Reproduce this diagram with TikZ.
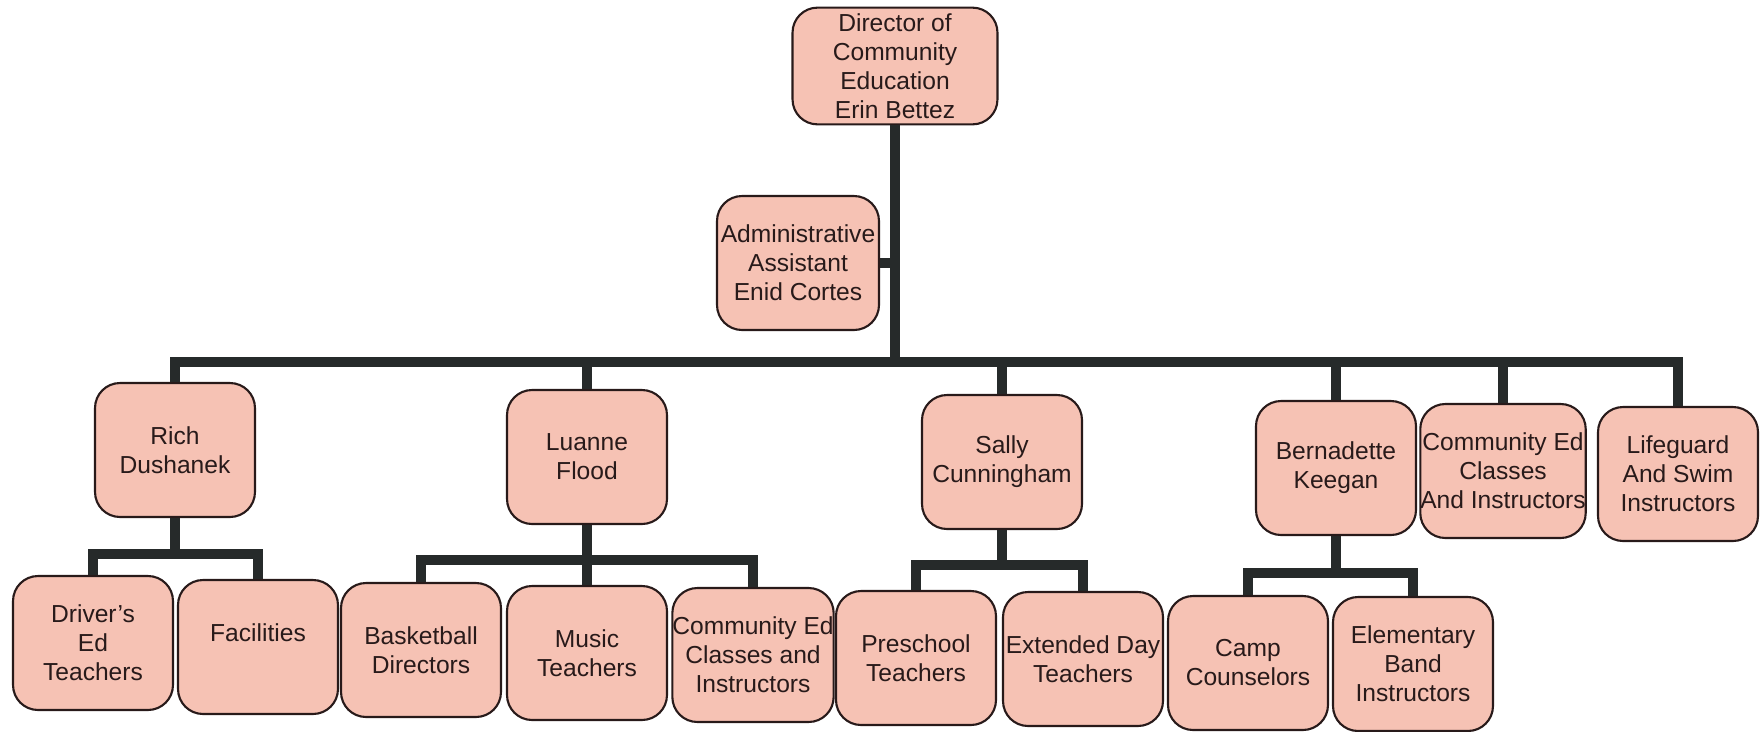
\documentclass[tikz,border=0pt]{standalone}
\usepackage{fontspec}
\setmainfont{Liberation Sans}
\definecolor{boxfill}{RGB}{246,194,180}
\definecolor{boxline}{RGB}{40,26,26}
\definecolor{barline}{RGB}{38,42,42}
\tikzset{
  unit/.style={draw=boxline,fill=boxfill,line width=1.2pt,rounded corners=0.5cm,
    align=center,text=boxline,minimum width=3.2cm,minimum height=2.68cm,
    inner xsep=0pt,font=\fontsize{14}{16.5}\selectfont},
  bar/.style={draw=barline,line width=5.5pt}
}
\begin{document}
\begin{tikzpicture}[x=0.02cm,y=-0.02cm]
  \useasboundingbox (0,0) rectangle (1762,731);
  % top
  \node[unit,minimum width=4.1cm,minimum height=2.3cm] (dir) at (895,66)
    {Director of\\Community\\Education\\Erin Bettez};
  \node[unit,minimum width=3.24cm] (admin) at (798,263)
    {Administrative\\Assistant\\Enid Cortes};
  % second row
  \node[unit] (rich) at (175,450) {Rich\\Dushanek};
  \node[unit] (luanne) at (587,457) {Luanne\\Flood};
  \node[unit] (sally) at (1002,462) {Sally\\Cunningham};
  \node[unit] (bern) at (1336,468) {Bernadette\\Keegan};
  \node[unit] (comm) at (1503,471) {Community Ed\\Classes\\And Instructors};
  \node[unit] (life) at (1678,474) {Lifeguard\\And Swim\\Instructors};
  % third row
  \node[unit] (drv) at (93,643) {Driver's\\Ed\\Teachers};
  \node[unit] (fac) at (258,647) {Facilities\\~};
  \node[unit] (bask) at (421,650) {Basketball\\Directors};
  \node[unit] (mus) at (587,653) {Music\\Teachers};
  \node[unit] (ced) at (753,655) {Community Ed\\Classes and\\Instructors};
  \node[unit] (pre) at (916,658) {Preschool\\Teachers};
  \node[unit] (ext) at (1083,659) {Extended Day\\Teachers};
  \node[unit] (camp) at (1248,663) {Camp\\Counselors};
  \node[unit] (elem) at (1413,664) {Elementary\\Band\\Instructors};
  % bus lines
  \coordinate (bus) at (0,362);
  \coordinate (rbus) at (0,554);
  \coordinate (lbus) at (0,560);
  \coordinate (sbus) at (0,565);
  \coordinate (bbus) at (0,573);
  \draw[bar] (dir.south) -- (dir.south |- bus);
  \draw[bar] (admin.east) -- (admin.east -| dir.south);
  \draw[bar] (rich.north) -- (rich |- bus) -- (life |- bus) -- (life.north);
  \foreach \n in {luanne,sally,bern,comm}
    \draw[bar] (\n.north) -- (\n |- bus);
  \draw[bar] (drv.north) -- (drv |- rbus) -- (fac |- rbus) -- (fac.north);
  \draw[bar] (rich.south) -- (rich |- rbus);
  \draw[bar] (bask.north) -- (bask |- lbus) -- (ced |- lbus) -- (ced.north);
  \draw[bar] (luanne.south) -- (mus.north);
  \draw[bar] (pre.north) -- (pre |- sbus) -- (ext |- sbus) -- (ext.north);
  \draw[bar] (sally.south) -- (sally |- sbus);
  \draw[bar] (camp.north) -- (camp |- bbus) -- (elem |- bbus) -- (elem.north);
  \draw[bar] (bern.south) -- (bern |- bbus);
\end{tikzpicture}
\end{document}
